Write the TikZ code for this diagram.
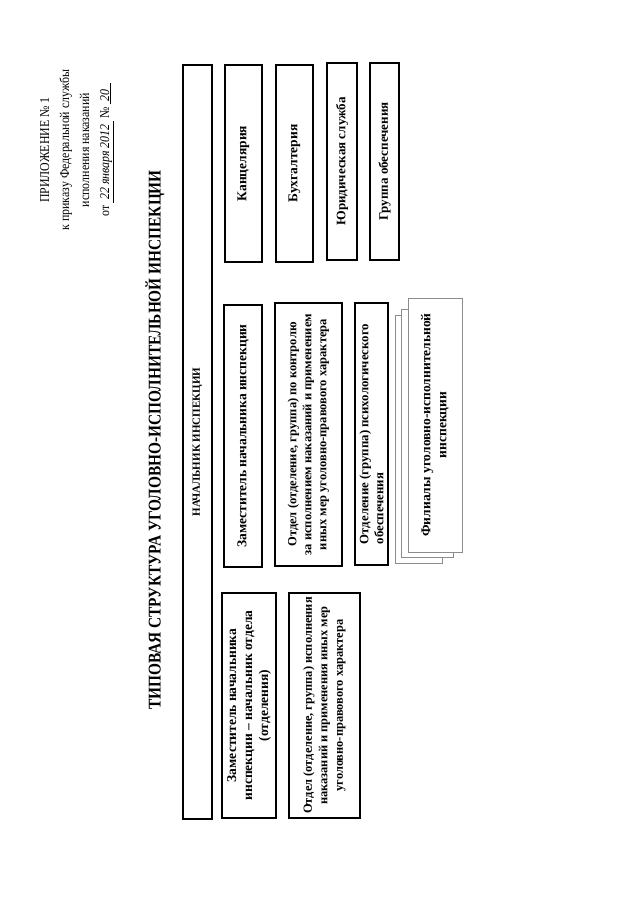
\documentclass[tikz,border=0pt]{standalone}
\usepackage{fontspec}
\setmainfont{Liberation Serif}
\begin{document}
\begin{tikzpicture}[x=1pt,y=-1pt,
  box/.style={draw, line width=1.5pt, rotate=90, inner sep=0pt, align=center,
    font=\bfseries\fontsize{13}{15.5}\selectfont},
  stackbox/.style={draw=black!45, line width=0.9pt, fill=white, rotate=90, inner sep=0pt, align=center,
    font=\bfseries\fontsize{13.5}{16}\selectfont},
  header/.style={rotate=90, align=center, inner sep=0pt, font=\fontsize{13.5}{20}\selectfont},
  titlestyle/.style={rotate=90, inner sep=0pt, font=\bfseries\fontsize{16}{18}\selectfont}]
\useasboundingbox[fill=white] (0,0) rectangle (640,905);

\node[header] (hdr) at (75,150) {\scalebox{0.88}[1]{\begin{tabular}{@{}c@{}}ПРИЛОЖЕНИЕ № 1\\к приказу Федеральной службы\\исполнения наказаний\\от \underline{\itshape\ 22 января 2012\ } № \underline{\itshape\ 20\ \ }\end{tabular}}};

\node[titlestyle] (title) at (155,440) {\scalebox{0.96}[1.12]{ТИПОВАЯ СТРУКТУРА УГОЛОВНО-ИСПОЛНИТЕЛЬНОЙ ИНСПЕКЦИИ}};

\node[box, minimum width=754pt, minimum height=29pt, font=\bfseries\fontsize{11}{14}\selectfont] (chief) at (197.5,442) {НАЧАЛЬНИК ИНСПЕКЦИИ};

\node[box, minimum width=197pt, minimum height=37pt, font=\bfseries\fontsize{13.5}{15}\selectfont] (kanc) at (243.5,163.5) {Канцелярия};
\node[box, minimum width=197pt, minimum height=37pt, font=\bfseries\fontsize{13.5}{15}\selectfont] (buh) at (294.5,163.5) {Бухгалтерия};
\node[box, minimum width=197pt, minimum height=30pt] (jur) at (342,161.5) {Юридическая служба};
\node[box, minimum width=197pt, minimum height=29pt] (grp) at (384.5,161.5) {Группа обеспечения};

\node[box, minimum width=262pt, minimum height=38pt, font=\bfseries\fontsize{13.5}{15}\selectfont] (zam) at (243,436) {Заместитель начальника инспекции};
\node[box, minimum width=263pt, minimum height=67pt, font=\bfseries\fontsize{12.5}{15}\selectfont] (otdk) at (308.5,434.5) {Отдел (отделение, группа) по контролю\\за исполнением наказаний и применением\\иных мер уголовно-правового характера};
\node[box, minimum width=262pt, minimum height=33pt, align=left, font=\bfseries\fontsize{12.8}{15}\selectfont] (psy) at (371.5,434) {Отделение (группа) психологического\\обеспечения};

\node[box, minimum width=225pt, minimum height=54pt, font=\bfseries\fontsize{13.5}{16}\selectfont] (zamo) at (249,705.5) {Заместитель начальника\\инспекции – начальник отдела\\(отделения)};
\node[box, minimum width=225pt, minimum height=71pt, font=\bfseries\fontsize{12.4}{15.5}\selectfont] (otdi) at (324.5,705.5) {Отдел (отделение, группа) исполнения\\наказаний и применения иных мер\\уголовно-правового характера};

\node[stackbox, minimum width=248pt, minimum height=47pt] (fil3) at (418.5,439) {};
\node[stackbox, minimum width=248pt, minimum height=52pt] (fil2) at (427,433) {};
\node[stackbox, minimum width=254pt, minimum height=54pt] (fil1) at (435,425) {Филиалы уголовно-исполнительной\\инспекции};
\end{tikzpicture}
\end{document}
